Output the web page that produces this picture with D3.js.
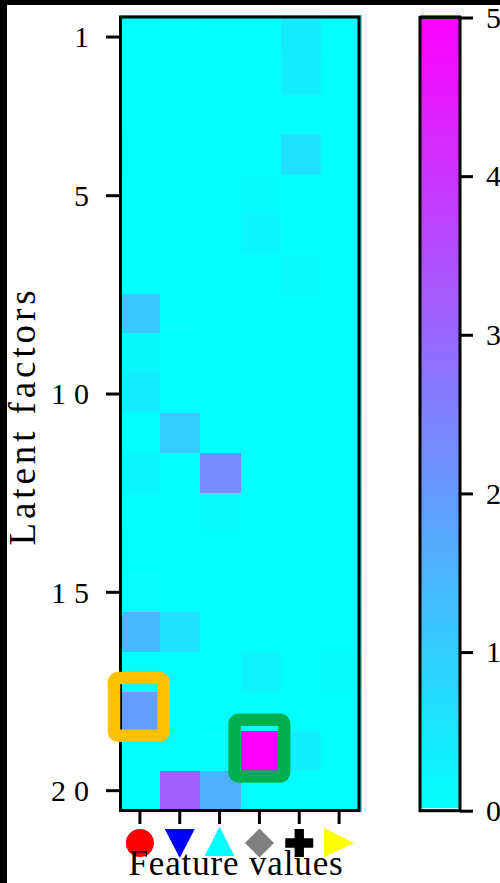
<!DOCTYPE html>
<html>
<head>
<meta charset="utf-8">
<script src="https://cdn.jsdelivr.net/npm/d3@7"></script>
<style>
  html, body { margin: 0; padding: 0; background: #fff; }
  svg { display: block; }
  text { font-family: "Liberation Serif", serif; fill: #000; }
</style>
</head>
<body>
<svg id="chart" width="500" height="883"></svg>
<script>
const features = ['circle', 'triangleDown', 'triangleUp', 'diamond', 'plus', 'triangleRight'];
const featureColors = ['#ff0000', '#0000ff', '#00ffff', '#808080', '#000000', '#ffff00'];
const factors = d3.range(1, 21);
const factorTicks = [1, 5, 10, 15, 20];
const colorTicks = [0, 1, 2, 3, 4, 5];

// one row per latent factor, one column per feature value
const loadings = [
  [0, 0.05, 0, 0, 0.4, 0],
  [0, 0, 0, 0, 0.35, 0],
  [0, 0, 0, 0, 0, 0],
  [0.02, 0, 0, 0, 0.6, 0],
  [0, 0, 0, 0.1, 0, 0],
  [0, 0, 0, 0.2, 0, 0],
  [0, 0, 0, 0, 0.12, 0],
  [1.1, 0.05, 0, 0, 0, 0],
  [0.15, 0, 0, 0, 0, 0],
  [0.35, 0, 0, 0, 0, 0],
  [0, 1.0, 0, 0, 0, 0.04],
  [0.2, 0, 2.25, 0, 0, 0.03],
  [0, 0, 0.12, 0, 0, 0.02],
  [0.02, 0, 0, 0, 0, 0.02],
  [0.08, 0, 0, 0, 0, 0.04],
  [1.4, 0.6, 0, 0, 0, 0],
  [0, 0, 0, 0.25, 0, 0.1],
  [1.9, 0, 0, 0, 0, 0],
  [0, 0, 0.05, 5, 0.3, 0],
  [0, 3.15, 1.55, 0, 0, 0]
];

const svg = d3.select('#chart');
const fontSize = 30;

// the black edges left over in the picture
svg.append('rect').attr('width', 500).attr('height', 5).attr('fill', '#000');
svg.append('rect').attr('width', 7).attr('height', 883).attr('fill', '#000');

const color = d3.scaleLinear().domain([0, 5]).range(['#00ffff', '#ff00ff']);

// cells run a little past the axes, so they get their own bands
const xCell = d3.scaleBand().domain(features).range([120, 361]);
const yCell = d3.scaleBand().domain(factors).range([15, 811]);
const x = d3.scaleBand().domain(features).range([120, 359]);
const y = d3.scaleBand().domain(factors).range([17.2, 810.5]);

const cells = loadings.flatMap((row, i) => row.map((v, j) => ({ factor: factors[i], feature: features[j], v })));
svg.append('g').selectAll('rect')
  .data(cells)
  .join('rect')
  .attr('x', d => xCell(d.feature))
  .attr('y', d => yCell(d.factor))
  .attr('width', xCell.bandwidth() + 0.5)
  .attr('height', yCell.bandwidth() + 0.5)
  .attr('fill', d => color(d.v))
  .attr('shape-rendering', 'crispEdges');

function styleAxis(g) {
  g.selectAll('.domain').remove();
  g.selectAll('.tick line').attr('stroke', '#000').attr('stroke-width', 3);
  g.selectAll('.tick text').attr('font-size', fontSize).attr('fill', '#000')
    .style('font-family', '"Liberation Serif", serif');
}

const yAxis = svg.append('g')
  .attr('transform', 'translate(120,0)')
  .call(d3.axisLeft(y).tickValues(factorTicks).tickSize(14).tickPadding(9))
  .call(styleAxis);
yAxis.selectAll('.tick text').style('letter-spacing', '8px').attr('dy', '0.34em');

svg.append('g')
  .attr('transform', 'translate(0,811)')
  .call(d3.axisBottom(x).tickSize(13).tickFormat(''))
  .call(styleAxis);

svg.append('rect')
  .attr('x', 120.5).attr('y', 17)
  .attr('width', 238.5).attr('height', 793.5)
  .attr('fill', 'none').attr('stroke', '#000').attr('stroke-width', 3);

const markerPaths = {
  circle: d3.symbol(d3.symbolCircle, 615)(),
  triangleDown: 'M-15,-14H15L0,15Z',
  triangleUp: 'M-15,13H15L0,-16Z',
  diamond: 'M0,-14.5L14.5,0L0,14.5L-14.5,0Z',
  plus: d3.symbol(d3.symbolCross, 435)(),
  triangleRight: 'M-15,-15V14L15,0Z'
};
svg.append('g').selectAll('path')
  .data(features)
  .join('path')
  .attr('transform', d => `translate(${x(d) + x.bandwidth() / 2},843)`)
  .attr('d', d => markerPaths[d])
  .attr('fill', (d, i) => featureColors[i]);

function highlightBox(feature, factor, boxColor, top, extra) {
  svg.append('rect')
    .attr('x', xCell(feature) - 6)
    .attr('y', yCell(factor) - top)
    .attr('width', xCell.bandwidth() + 9.5)
    .attr('height', yCell.bandwidth() + extra)
    .attr('rx', 4)
    .attr('fill', 'none')
    .attr('stroke', boxColor)
    .attr('stroke-width', 12.5);
}
highlightBox('circle', 18, '#ffc000', 13.6, 18);
highlightBox('diamond', 19, '#00b050', 11.7, 17);

svg.append('text')
  .attr('transform', 'translate(35,416) rotate(-90)')
  .attr('text-anchor', 'middle')
  .attr('font-size', 37)
  .style('letter-spacing', '3.9px')
  .text('Latent factors');

svg.append('text')
  .attr('x', 236).attr('y', 875)
  .attr('text-anchor', 'middle')
  .attr('font-size', 35)
  .style('letter-spacing', '0.85px')
  .text('Feature values');

// colour bar
const yBar = d3.scaleLinear().domain([0, 5]).range([810.7, 17.5]);
const gradient = svg.append('defs').append('linearGradient')
  .attr('id', 'cool').attr('x1', 0).attr('x2', 0).attr('y1', 1).attr('y2', 0);
gradient.selectAll('stop')
  .data(colorTicks)
  .join('stop')
  .attr('offset', d => d / 5)
  .attr('stop-color', d => color(d));

// fill stops just short of the bottom line and pokes out above the top one
svg.append('rect')
  .attr('x', 420).attr('y', yBar(5) - 2.5)
  .attr('width', 41).attr('height', yBar(0) - yBar(5))
  .attr('fill', 'url(#cool)');
svg.append('rect')
  .attr('x', 420).attr('y', yBar(5))
  .attr('width', 40).attr('height', yBar(0) - yBar(5))
  .attr('fill', 'none')
  .attr('stroke', '#000').attr('stroke-width', 3);

svg.append('g')
  .attr('transform', 'translate(460,0)')
  .call(d3.axisRight(yBar).tickValues(colorTicks).tickSize(13).tickPadding(13).tickFormat(d3.format('d')))
  .call(styleAxis);
</script>
</body>
</html>
